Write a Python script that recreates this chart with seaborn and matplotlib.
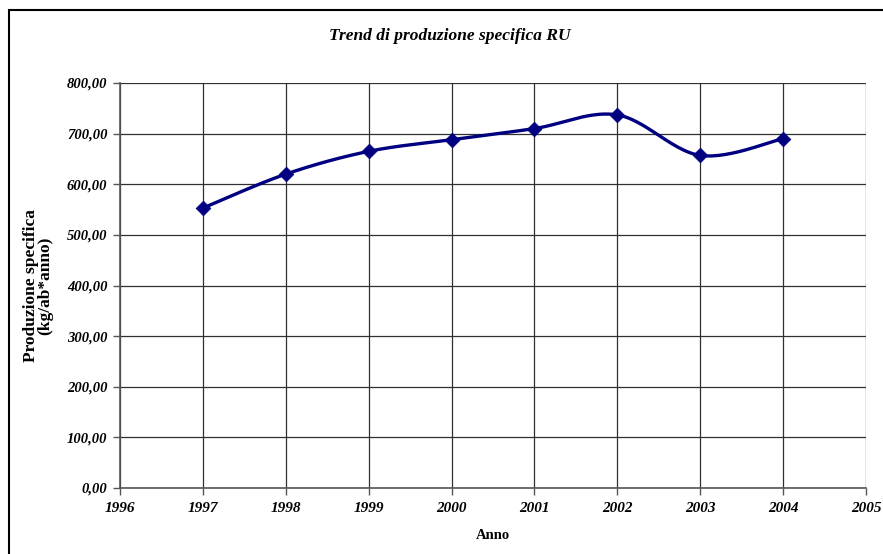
import numpy as np
import pandas as pd
import matplotlib
matplotlib.use("Agg")
import matplotlib.pyplot as plt
import seaborn as sns

years = [1997, 1998, 1999, 2000, 2001, 2002, 2003, 2004]
values = [553, 620, 665, 688, 710, 737, 657, 690]
yticks = [0, 100, 200, 300, 400, 500, 600, 700, 800]
xticks = list(range(1996, 2006))

sns.set_theme(style="white")
plt.rcParams['font.family'] = ['Liberation Serif', 'DejaVu Serif']


def excel_smooth(x, y, n=30):
    # Bezier smoothing similar to spreadsheet "smoothed line"
    x = np.asarray(x, float); y = np.asarray(y, float)
    px, py = [], []
    m = len(x)
    for i in range(m - 1):
        x0, y0 = (x[i - 1], y[i - 1]) if i > 0 else (x[i], y[i])
        x3, y3 = (x[i + 2], y[i + 2]) if i + 2 < m else (x[i + 1], y[i + 1])
        c1x = x[i] + (x[i + 1] - x0) / 6; c1y = y[i] + (y[i + 1] - y0) / 6
        c2x = x[i + 1] - (x3 - x[i]) / 6; c2y = y[i + 1] - (y3 - y[i]) / 6
        t = np.linspace(0, 1, n, endpoint=(i == m - 2))
        bx = (1-t)**3*x[i] + 3*(1-t)**2*t*c1x + 3*(1-t)*t**2*c2x + t**3*x[i+1]
        by = (1-t)**3*y[i] + 3*(1-t)**2*t*c1y + 3*(1-t)*t**2*c2y + t**3*y[i+1]
        px.extend(bx); py.extend(by)
    return np.array(px), np.array(py)

sx, sy = excel_smooth(years, values)
curve = pd.DataFrame({"x": sx, "y": sy})
pts = pd.DataFrame({"Anno": years, "Valore": values})

fig = plt.figure(figsize=(8.83, 5.54), dpi=100)
ax = fig.add_axes([120/883, 1-488/554, (866-120)/883, (488-83)/554])

sns.lineplot(data=curve, x="x", y="y", ax=ax, color="#000080", linewidth=2.4,
             sort=False, estimator=None, zorder=3)
sns.scatterplot(data=pts, x="Anno", y="Valore", ax=ax, marker="D", s=55,
                color="#000080", edgecolor="#000080", zorder=4)

ax.set_xlim(1996, 2005)
ax.set_ylim(0, 800)
ax.set_xticks(xticks)
ax.set_xticklabels([str(v) for v in xticks])
ax.set_yticks(yticks)
ax.set_yticklabels([f"{v},00" for v in yticks])
ax.grid(True, color="#303030", linewidth=0.9)
ax.set_axisbelow(True)
for s in ["top", "right"]:
    ax.spines[s].set_visible(False)
for s in ["left", "bottom"]:
    ax.spines[s].set_color("#555555")
    ax.spines[s].set_linewidth(1.2)
ax.tick_params(axis="both", direction="out", length=5, width=1, color="#555555",
               left=True, bottom=True)
ax.tick_params(axis="y", pad=4)
ax.tick_params(axis="x", pad=5)
for lab in ax.get_yticklabels():
    lab.set_fontweight("bold"); lab.set_fontstyle("italic"); lab.set_fontsize(10.5)
    lab.set_color("black")
for lab in ax.get_xticklabels():
    lab.set_fontweight("bold"); lab.set_fontstyle("italic"); lab.set_fontsize(11)
    lab.set_color("black")

ax.set_xlabel("Anno", fontsize=10.5, fontweight="bold", labelpad=10, color="black")
ax.set_ylabel("Produzione specifica\n(kg/ab*anno)", fontsize=12.5, fontweight="bold",
              color="black", linespacing=0.85)
ax.yaxis.set_label_coords((53 - 120) / (866 - 120), 0.5)

fig.text(450/883, 1-36/554, "Trend di produzione specifica RU", ha="center", va="center",
         fontsize=12.5, fontweight="bold", fontstyle="italic", color="black")

fig.patches.append(plt.Rectangle((8.5/883, -0.05), 1.0, 1 - 10/554 + 0.05,
                                 transform=fig.transFigure, fill=False,
                                 edgecolor="black", linewidth=1.5))

fig.savefig("out.png", dpi=100)
